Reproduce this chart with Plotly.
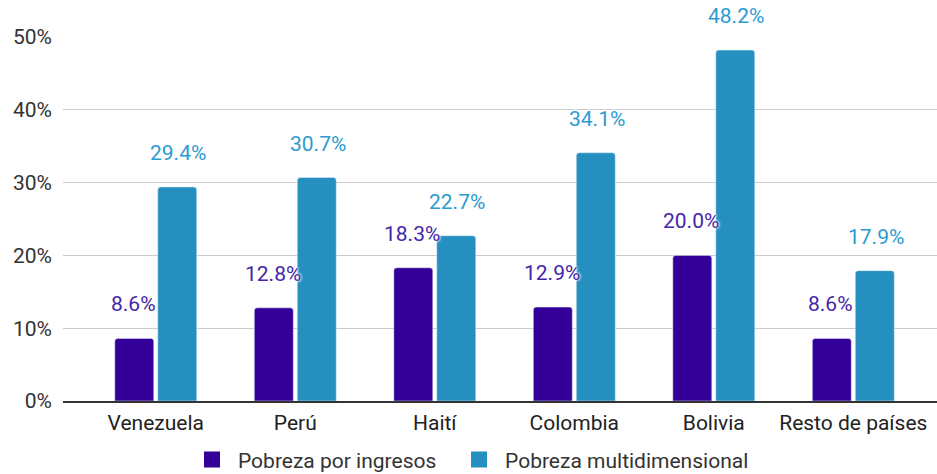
import plotly.graph_objects as go

paises = ["Venezuela", "Perú", "Haití", "Colombia", "Bolivia", "Resto de países"]
pobreza_ingresos = [0.086, 0.128, 0.183, 0.129, 0.200, 0.086]
pobreza_multi = [0.294, 0.307, 0.227, 0.341, 0.482, 0.179]
y_ticks = [0, 0.1, 0.2, 0.3, 0.4, 0.5]

color_ing = "#330099"
color_multi = "#2590c0"
halo = "0 0 3px white, 0 0 3px white, 0 0 2px white"
FONT = "Roboto"

fig = go.Figure()
fig.add_trace(go.Bar(x=paises, y=pobreza_ingresos, name="Pobreza por ingresos",
                     marker=dict(color=color_ing, cornerradius=3), showlegend=False))
fig.add_trace(go.Bar(x=paises, y=pobreza_multi, name="Pobreza multidimensional",
                     marker=dict(color=color_multi, cornerradius=3), showlegend=False))

# legend entries with bigger square swatches, one legend box each
for name, col, leg in [("Pobreza por ingresos", color_ing, "legend"),
                       ("Pobreza multidimensional", color_multi, "legend2")]:
    fig.add_trace(go.Scatter(x=[None], y=[None], mode="markers", name=name, legend=leg,
                             marker=dict(symbol="square", size=16, color=col)))

# value labels, floated above each bar
for serie, shift, tcolor in [(pobreza_ingresos, -22.5, "#4526a8"),
                             (pobreza_multi, 22.5, "#2b9bd0")]:
    for p, v in zip(paises, serie):
        fig.add_annotation(x=p, y=v, text=f"{v*100:.1f}%", showarrow=False,
                           xshift=shift, yshift=34, yanchor="middle",
                           font=dict(family=FONT, size=21, color=tcolor, shadow=halo))

leg_style = dict(orientation="h", xref="container", xanchor="left",
                 yref="container", y=0.03, yanchor="middle",
                 font=dict(size=21, color="#333333"), itemwidth=42)

fig.update_layout(
    width=937, height=474,
    margin=dict(l=63, r=0, t=37, b=73),
    paper_bgcolor="white", plot_bgcolor="white",
    barmode="group", bargap=0.384, bargroupgap=0.093,
    font=dict(family=FONT, size=21, color="#333333"),
    legend=dict(x=0.1985, **leg_style),
    legend2=dict(x=0.4835, **leg_style),
)
fig.update_xaxes(range=[-0.665, 5.6], showline=True, linecolor="#333333", linewidth=1.5,
                 tickfont=dict(size=21, color="#222222"), ticks="", ticklabelstandoff=2)
fig.update_yaxes(range=[0, 0.5], tickvals=y_ticks, tickformat=".0%",
                 gridcolor="#cccccc", gridwidth=1, zeroline=False,
                 tickfont=dict(size=21, color="#333333"), ticks="", ticklabelstandoff=10)

fig.write_html("out.html", config={"displayModeBar": False},
               post_script="document.body.style.margin='0';")
